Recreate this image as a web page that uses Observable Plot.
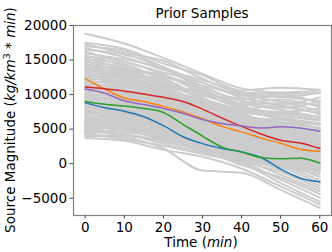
<!DOCTYPE html>
<html>
<head>
<meta charset="utf-8">
<script src="https://cdn.jsdelivr.net/npm/d3@7"></script>
<script src="https://cdn.jsdelivr.net/npm/@observablehq/plot@0.6"></script>
<style>
  html, body { margin: 0; padding: 0; background: white; }
  svg { display: block; }
</style>
</head>
<body>
<div id="chart"></div>
<script>
// Sample times (minutes)
const grayTimes = [0, 10, 20, 30, 40, 50, 60];
const colorTimes = [0, 5, 10, 15, 20, 25, 30, 35, 40, 45, 50, 55, 60];

// Gray prior samples (values at grayTimes)
const grayLines = [
  [18800, 17400, 15300, 13000, 10900, 10300, 10600],
  [17500, 16600, 14500, 12800, 10600, 11000, 10700],
  [17300, 16000, 14900, 12300, 10300, 10100, 10200],
  [17000, 16300, 14000, 11700, 10000, 9600, 10300],
  [16700, 15400, 13600, 12100, 10300, 9700, 9100],
  [16500, 15800, 13900, 11200, 9300, 10000, 8700],
  [16200, 14700, 13200, 11700, 9600, 8600, 9600],
  [16000, 15100, 13800, 10800, 8800, 9300, 8200],
  [15700, 14200, 12500, 11300, 9900, 9000, 8500],
  [15500, 14800, 12900, 10300, 9100, 8100, 9000],
  [15300, 13800, 12800, 10900, 8500, 8800, 7600],
  [15100, 14400, 12100, 9800, 9500, 8300, 7300],
  [14900, 13400, 12700, 10600, 8200, 7500, 8000],
  [14700, 13900, 11600, 10200, 8700, 7800, 6700],
  [14500, 13000, 12300, 9500, 7900, 8400, 7100],
  [14300, 13600, 11400, 10400, 8400, 7000, 6300],
  [14100, 12700, 12000, 9200, 7600, 7400, 6800],
  [13900, 13300, 11200, 9900, 8100, 6700, 5900],
  [13700, 12400, 10900, 8900, 7300, 7200, 6400],
  [13500, 13000, 11700, 9400, 7800, 6500, 5600],
  [13300, 12100, 10600, 8600, 7500, 6600, 5700],
  [13100, 12700, 11000, 9100, 6900, 6100, 5200],
  [12900, 11800, 10300, 8800, 7200, 5900, 5800],
  [12700, 12400, 10700, 8300, 6600, 6400, 4900],
  [12500, 11500, 10000, 8500, 6800, 5600, 4600],
  [12300, 11900, 10400, 7900, 6300, 5800, 5100],
  [12100, 11200, 9700, 8200, 6500, 5300, 4200],
  [11900, 11600, 10100, 7700, 6000, 5400, 4800],
  [11700, 10800, 9400, 7900, 6200, 5000, 3900],
  [11500, 11100, 9800, 7400, 5700, 5100, 4500],
  [11300, 10500, 9100, 7600, 5900, 4700, 3600],
  [11100, 10700, 9500, 7100, 5400, 4800, 4100],
  [10900, 10200, 8800, 7300, 5600, 4400, 3300],
  [10700, 10400, 9200, 6800, 5100, 4500, 3800],
  [10500, 9900, 8500, 7000, 5300, 4100, 3000],
  [10300, 10100, 8900, 6500, 4800, 4200, 3500],
  [10100, 9600, 8200, 6700, 5000, 3800, 2700],
  [9900, 9800, 8600, 6200, 4500, 3900, 3200],
  [9700, 9300, 7900, 6400, 4700, 3500, 2400],
  [9500, 9500, 8300, 5900, 4200, 3600, 2900],
  [9300, 9000, 7600, 6100, 4400, 3200, 2100],
  [9100, 9200, 8000, 5600, 3900, 3300, 2600],
  [8900, 8700, 7300, 5800, 4100, 2900, 1800],
  [8700, 8900, 7700, 5300, 3600, 3000, 2300],
  [8500, 8400, 7000, 5500, 3800, 2600, 1500],
  [8300, 8600, 7400, 5000, 3300, 2700, 2000],
  [8100, 8100, 6700, 5200, 3500, 2300, 1200],
  [7900, 8300, 7100, 4700, 3000, 2400, 1700],
  [7700, 7800, 6400, 4900, 3200, 2000, 900],
  [7500, 8000, 6800, 4400, 2700, 2100, 1400],
  [7300, 7500, 6100, 4600, 2900, 1700, 600],
  [7100, 7700, 6500, 4100, 2400, 1800, 1100],
  [6900, 7200, 5800, 4300, 2600, 1400, 300],
  [6700, 7400, 6200, 3800, 2100, 1500, 800],
  [6500, 6900, 5500, 4000, 2300, 1100, 0],
  [6300, 7100, 5900, 3500, 1800, 1200, 500],
  [6100, 6600, 5200, 3700, 2000, 800, -300],
  [5900, 6800, 5600, 3200, 1500, 900, 200],
  [5700, 6300, 4900, 3400, 1700, 500, -600],
  [5500, 6500, 5300, 2900, 1200, 600, -100],
  [5300, 6000, 4600, 3100, 1400, 200, -900],
  [5100, 6200, 5000, 2600, 900, 300, -400],
  [4900, 5700, 4300, 2800, 1100, -100, -1200],
  [4700, 5900, 4700, 2300, 600, 0, -700],
  [4500, 5400, 4000, 2500, 800, -400, -1500],
  [4300, 5000, 3800, 2000, 300, -300, -1000],
  [4200, 3800, 2200, -1000, -1300, -3800, -6400],
  [3700, 3300, 2000, 1000, -700, -3300, -5900],
  [4400, 3500, 2600, 1400, 100, -2800, -5500],
  [3900, 4100, 2900, 1700, 300, -2300, -4900],
  [4600, 4300, 3200, 1900, -200, -2000, -4400],
  [5000, 4000, 3500, 2200, 600, -1600, -4000],
  [4800, 4600, 3700, 2500, 400, -1200, -3600],
  [5300, 4900, 3400, 2000, 800, -900, -3200],
  [5600, 5200, 4000, 2700, 1000, -500, -2800],
  [6000, 5500, 4300, 3000, 1300, -200, -2400],
  [6400, 5800, 4500, 3300, 1600, 100, -1900]
];

// Highlighted samples (values at colorTimes)
const blueLine   = [8800, 8100, 7600, 6800, 5500, 3900, 2900, 2200, 1700, 900, -800, -2100, -2600];
const orangeLine = [12300, 10800, 9500, 9000, 8300, 7500, 6500, 5400, 4600, 3700, 2950, 2100, 1800];
const greenLine  = [9000, 8600, 8350, 8000, 7400, 5700, 4000, 2400, 1700, 900, 700, 800, 100];
const redLine    = [11100, 10850, 10500, 10100, 9600, 9000, 7900, 6600, 5400, 4300, 3400, 3000, 2200];
const purpleLine = [10800, 10200, 9100, 8550, 8000, 7300, 6400, 5800, 5450, 5150, 5350, 5150, 4700];

const colorSeries = [
  {name: "C0", values: blueLine, color: "#1f77b4"},
  {name: "C1", values: orangeLine, color: "#ff7f0e"},
  {name: "C2", values: greenLine, color: "#2ca02c"},
  {name: "C3", values: redLine, color: "#d62728"},
  {name: "C4", values: purpleLine, color: "#9467bd"}
];

const xTicks = [0, 10, 20, 30, 40, 50, 60];
const yTicks = [-5000, 0, 5000, 10000, 15000, 20000];

const titleText = "Prior Samples";

const grayData = grayLines.flatMap((vals, i) => vals.map((v, j) => ({t: grayTimes[j], v, id: i})));
const colorData = colorSeries.flatMap(s => s.values.map((v, j) => ({t: colorTimes[j], v, name: s.name, color: s.color})));

const fmt = d => d < 0 ? "\u2212" + Math.abs(d) : String(d);

const svg = Plot.plot({
  width: 332,
  height: 252,
  marginLeft: 73,
  marginRight: 1,
  marginTop: 25,
  marginBottom: 37,
  style: {fontFamily: "DejaVu Sans", fontSize: "13.5px", color: "black", background: "white"},
  x: {domain: [-3, 63]},
  y: {domain: [-7500, 20000]},
  marks: [
    Plot.line(grayData, {x: "t", y: "v", z: "id", stroke: "#cccccc", strokeWidth: 2, curve: "monotone-x"}),
    Plot.line(colorData, {x: "t", y: "v", z: "name", stroke: "color", strokeWidth: 1.5, curve: "monotone-x"}),
    Plot.frame({stroke: "#808080", strokeWidth: 1.2}),
    Plot.axisX({ticks: xTicks, tickSize: 3.5, tickPadding: 3, stroke: "#444", fill: "black", label: null, fontSize: 13.5}),
    Plot.axisY({ticks: yTicks, tickSize: 3.5, tickPadding: 3, tickFormat: fmt, stroke: "#444", fill: "black", label: null, fontSize: 13.5})
  ]
});

const s = d3.select(svg);
// Title
s.append("text")
  .attr("x", 202).attr("y", 17.5)
  .attr("text-anchor", "middle")
  .style("font-family", "DejaVu Sans").style("font-size", "13.5px").attr("fill", "black")
  .text(titleText);

// X label
const xl = s.append("text")
  .attr("x", 201).attr("y", 247)
  .attr("text-anchor", "middle")
  .style("font-family", "DejaVu Sans").style("font-size", "13.5px").attr("fill", "black");
xl.append("tspan").text("Time (");
xl.append("tspan").style("font-style", "italic").text("min");
xl.append("tspan").text(")");

// Y label
const yl = s.append("text")
  .attr("transform", "translate(15,120) rotate(-90)")
  .attr("text-anchor", "middle")
  .style("font-family", "DejaVu Sans").style("font-size", "13.5px").attr("fill", "black");
yl.append("tspan").text("Source Magnitude (");
yl.append("tspan").style("font-style", "italic").text("kg/km");
yl.append("tspan").attr("dy", -5).style("font-size", "9.5px").text("3");
yl.append("tspan").attr("dy", 5).text(" * ");
yl.append("tspan").style("font-style", "italic").text("min");
yl.append("tspan").text(")");

document.getElementById("chart").appendChild(svg);
</script>
</body>
</html>
